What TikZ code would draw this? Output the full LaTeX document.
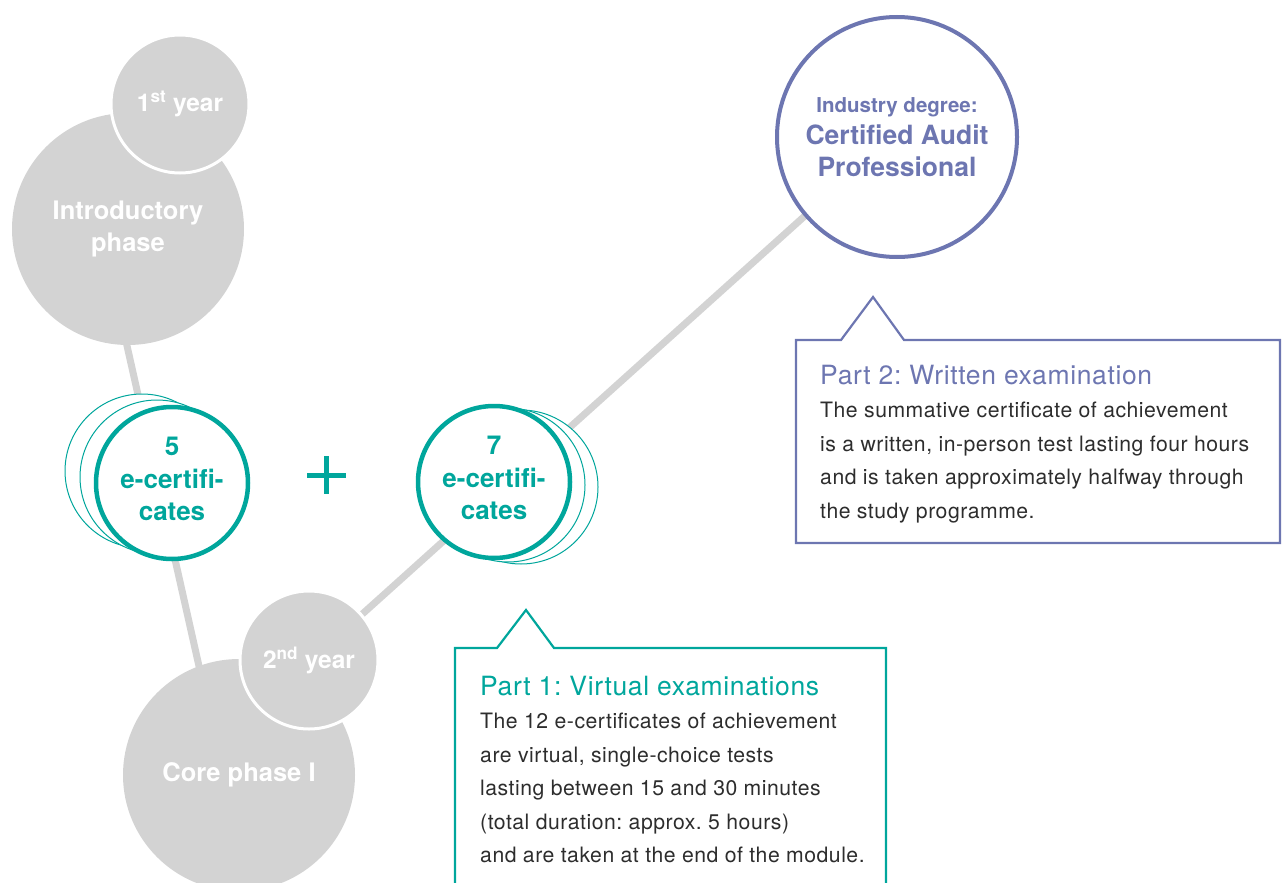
\documentclass[tikz,border=0pt]{standalone}
\usepackage{fontspec}
\setmainfont{TeX Gyre Heros}
\newfontfamily\bodyfont[LetterSpace=2.4]{TeX Gyre Heros}
\frenchspacing
\definecolor{teal1}{RGB}{0,166,156}
\definecolor{purp}{RGB}{109,118,177}
\definecolor{lgray}{RGB}{211,211,211}
\definecolor{txt}{RGB}{45,45,45}
\tikzset{
  conn/.style={draw=lgray, line width=7pt},
  phase/.style={circle, fill=lgray, inner sep=0pt, text=white, font=\bfseries\fontsize{25.5}{32}\selectfont, align=center},
  yearc/.style={circle, fill=lgray, draw=white, line width=3pt, inner sep=0pt, minimum size=138pt, text=white, font=\bfseries\fontsize{24.5}{31}\selectfont},
  certmain/.style={circle, draw=teal1, fill=white, line width=4.5pt, minimum size=152pt, inner sep=0pt, text=teal1, align=center, font=\bfseries\fontsize{26}{32.5}\selectfont},
  certback/.style={circle, draw=teal1, fill=white, line width=1pt, minimum size=154pt, inner sep=0pt},
  degc/.style={circle, draw=purp, fill=white, line width=4pt, minimum size=240pt, inner sep=0pt, text=purp, align=center, font=\bfseries\fontsize{26.5}{32}\selectfont},
  calloutA/.style={draw=teal1, line width=2.2pt, line join=miter},
  calloutB/.style={draw=purp, line width=2.2pt, line join=miter},
  boxtitle/.style={anchor=base west, inner sep=0pt, font=\bodyfont\fontsize{26.5}{30}\selectfont},
  boxbody/.style={anchor=north west, inner sep=0pt, align=left, text=txt, font=\bodyfont\fontsize{21.2}{33.5}\selectfont},
}
\begin{document}
\begin{tikzpicture}[x=1pt,y=-1pt]
\useasboundingbox (0,0) rectangle (1285,883);
% connector end points
\coordinate (l1a) at (101,230);
\coordinate (l1b) at (223,773);
\coordinate (l2a) at (897,133);
\coordinate (l2b) at (309,662);
\draw[conn] (l1a) -- (l1b);
\draw[conn] (l2a) -- (l2b);
% phases
\node[phase, minimum size=232pt] (intro) at (128,229) {Introductory\\phase};
\node[yearc] (y1) at (180,104) {1\textsuperscript{st} year};
\node[phase, minimum size=232pt] (core) at (239,775) {Core phase I};
\node[yearc] (y2) at (309,660) {2\textsuperscript{nd} year};
% e-certificates 5
\node[certback] (c5b1) at (142,471) {};
\node[certback] (c5b2) at (157,477) {};
\node[certmain] (c5) at (172,483) {5\\e-certifi-\\cates\rule[-8pt]{0pt}{0pt}};
% plus
\draw[teal1, line width=5pt] (307,475) -- (346,475) (326.5,456) -- (326.5,494);
% e-certificates 7
\node[certback] (c7b1) at (521,487) {};
\node[certback] (c7b2) at (508,485) {};
\node[certmain] (c7) at (494,482) {7\\e-certifi-\\cates\rule[-8pt]{0pt}{0pt}};
% degree
\node[degc] (deg) at (897,137) {{\fontsize{20.5}{32}\selectfont Industry degree:}\\Certified Audit\\Professional};
% callout 1
\draw[calloutA] (455,890) -- (455,648) -- (497,648) -- (526,610) -- (554,648) -- (886,648) -- (886,890);
\node[boxtitle, text=teal1] (t1) at (480,695) {Part 1: Virtual examinations};
\node[boxbody] (b1) at (480,713) {The 12 e-certificates of achievement\\are virtual, single-choice tests\\lasting between 15 and 30 minutes\\(total duration: approx. 5 hours)\\and are taken at the end of the module.};
% callout 2
\draw[calloutB] (796,543) -- (796,340) -- (841,340) -- (873,297) -- (904,340) -- (1280,340) -- (1280,543) -- cycle;
\node[boxtitle, text=purp] (t2) at (820,384) {Part 2: Written examination};
\node[boxbody] (b2) at (820,402) {The summative certificate of achievement\\is a written, in-person test lasting four hours\\and is taken approximately halfway through\\the study programme.};
\end{tikzpicture}
\end{document}
